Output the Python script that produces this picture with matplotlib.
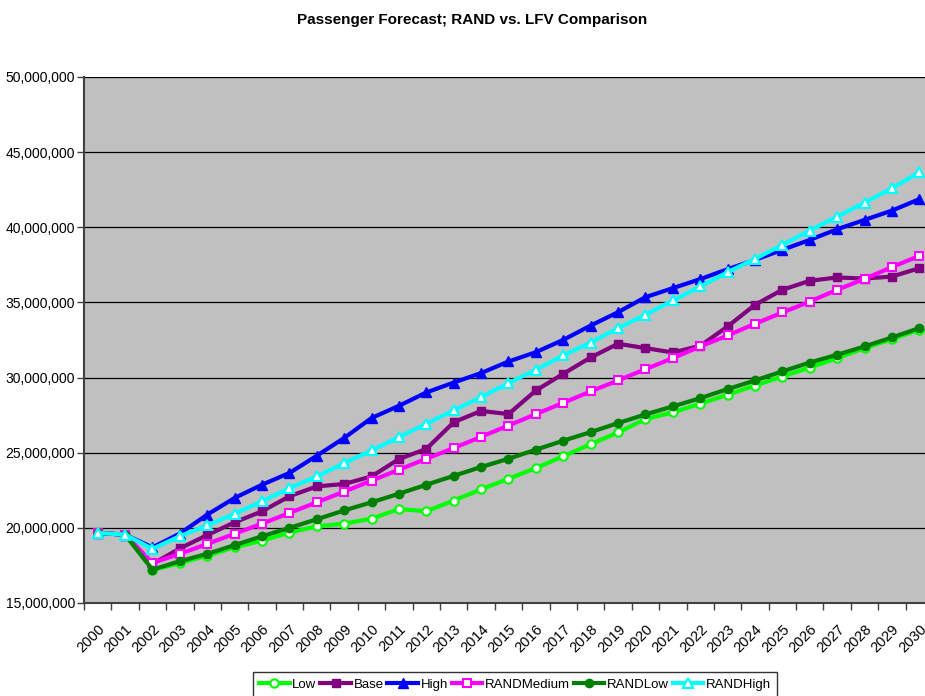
import matplotlib
matplotlib.use("Agg")
import matplotlib.pyplot as plt
from matplotlib.ticker import FuncFormatter, FixedLocator

years = [str(y) for y in range(2000, 2031)]

low = [19.66, 19.55, 17.2, 17.65, 18.15, 18.71, 19.15, 19.68, 20.10, 20.28, 20.61, 21.26, 21.10,
       21.82, 22.56, 23.27, 23.98, 24.76, 25.57, 26.35, 27.24, 27.69, 28.26, 28.86, 29.47, 30.07,
       30.67, 31.29, 31.96, 32.56, 33.18]
base = [19.66, 19.55, 17.6, 18.63, 19.52, 20.37, 21.10, 22.10, 22.76, 22.92, 23.42, 24.58, 25.25,
        27.03, 27.78, 27.57, 29.14, 30.25, 31.34, 32.25, 31.96, 31.67, 32.11, 33.40, 34.84, 35.84,
        36.44, 36.66, 36.59, 36.72, 37.28]
high = [19.66, 19.55, 18.7, 19.62, 20.88, 21.99, 22.87, 23.65, 24.80, 25.98, 27.31, 28.12, 29.01,
        29.67, 30.30, 31.07, 31.69, 32.51, 33.46, 34.35, 35.35, 35.95, 36.55, 37.21, 37.83, 38.50,
        39.16, 39.87, 40.49, 41.11, 41.87]
rand_medium = [19.66, 19.55, 17.67, 18.27, 18.93, 19.61, 20.28, 20.99, 21.70, 22.41, 23.14, 23.87,
               24.60, 25.31, 26.06, 26.81, 27.57, 28.32, 29.08, 29.81, 30.56, 31.29, 32.07, 32.80,
               33.58, 34.33, 35.06, 35.84, 36.57, 37.35, 38.10]
rand_low = [19.66, 19.55, 17.22, 17.78, 18.27, 18.85, 19.44, 20.0, 20.57, 21.16, 21.70, 22.27, 22.87,
            23.46, 24.05, 24.60, 25.20, 25.80, 26.37, 26.97, 27.55, 28.08, 28.63, 29.23, 29.81,
            30.41, 31.0, 31.52, 32.07, 32.67, 33.29]
rand_high = [19.66, 19.55, 18.6, 19.45, 20.16, 20.94, 21.76, 22.65, 23.42, 24.31, 25.15, 26.04,
             26.93, 27.82, 28.70, 29.63, 30.52, 31.47, 32.33, 33.29, 34.18, 35.13, 36.06, 37.01,
             37.90, 38.83, 39.78, 40.71, 41.64, 42.60, 43.65]

series_names = ["Low", "Base", "High", "RANDMedium", "RANDLow", "RANDHigh"]

plt.rcParams['font.family'] = ['Liberation Sans', 'DejaVu Sans']

fig = plt.figure(figsize=(9.25, 6.96), dpi=100)
ax = fig.add_axes([84/925, 1-603/696, (933-84)/925, (603-77)/696])
ax.set_facecolor('#C0C0C0')

x = list(range(len(years)))
styles = [
    (low, dict(color='#00FF00', marker='o', mfc='white', mec='#00FF00', ms=6, mew=1.5)),
    (base, dict(color='#800080', marker='s', mfc='#800080', mec='#800080', ms=6, mew=1)),
    (high, dict(color='#0000FF', marker='^', mfc='#0000FF', mec='#0000FF', ms=7, mew=1)),
    (rand_medium, dict(color='#FF00FF', marker='s', mfc='white', mec='#FF00FF', ms=6, mew=1.5)),
    (rand_low, dict(color='#008000', marker='o', mfc='#008000', mec='#008000', ms=6, mew=1)),
    (rand_high, dict(color='#00FFFF', marker='^', mfc='white', mec='#00FFFF', ms=7, mew=1.5)),
]
for name, (vals, st) in zip(series_names, styles):
    ax.plot(x, [v*1e6 for v in vals], lw=3, label=name, clip_on=True, zorder=3, **st)

ax.set_xlim(-0.5, 30.5)
ax.set_ylim(15e6, 50e6)
ax.set_yticks([15e6, 20e6, 25e6, 30e6, 35e6, 40e6, 45e6, 50e6])
ax.yaxis.set_major_formatter(FuncFormatter(lambda v, p: f"{int(v):,}"))
ax.yaxis.grid(True, color='black', lw=0.9)
ax.set_axisbelow(True)

ax.set_xticks(x)
ax.set_xticklabels(years, rotation=45, ha='right', rotation_mode='anchor', fontsize=10.5)
ax.tick_params(axis='x', which='major', length=0, pad=14)
ax.xaxis.set_minor_locator(FixedLocator([i - 0.5 for i in range(32)]))
ax.tick_params(axis='x', which='minor', length=5, width=1, color='#404040', direction='out')
ax.tick_params(axis='y', length=5, width=1, color='#404040', labelsize=10, pad=1.5)

for s in ['top', 'right']:
    ax.spines[s].set_visible(False)
for s in ['left', 'bottom']:
    ax.spines[s].set_color('#404040')
    ax.spines[s].set_linewidth(1.5)

fig.text(472/925, 1-20/696, "Passenger Forecast; RAND vs. LFV Comparison",
         ha='center', va='center', fontsize=11, fontweight='bold')

leg = fig.legend(loc='upper center', bbox_to_anchor=(515/925, 1-672/696), ncol=6,
                 frameon=True, fancybox=False, edgecolor='black', fontsize=9.5,
                 handlelength=2.3, handletextpad=0.2, columnspacing=0.3,
                 borderpad=0.5, borderaxespad=0)
leg.get_frame().set_linewidth(1)

fig.savefig("out.png", dpi=100, facecolor='white')
